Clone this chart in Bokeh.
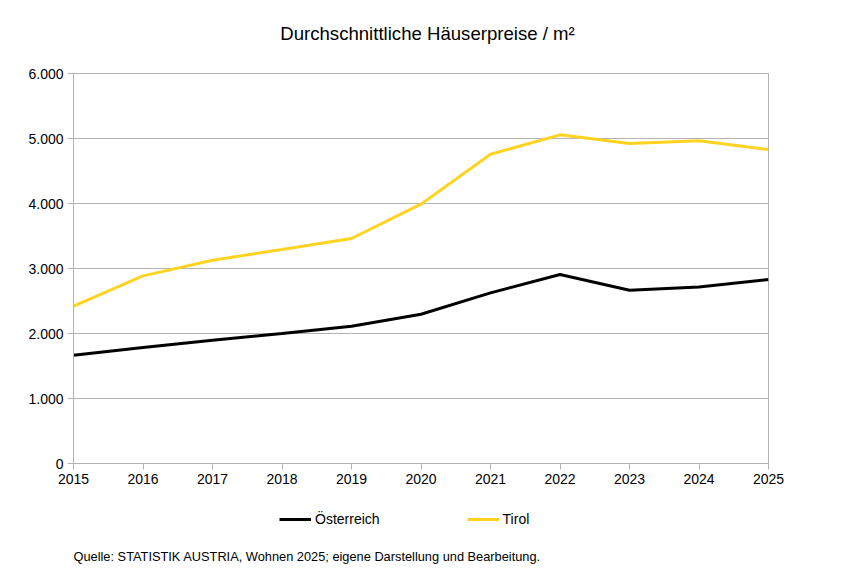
from bokeh.plotting import figure
from bokeh.layouts import column
from bokeh.models import (ColumnDataSource, FixedTicker, Range1d, Label, Legend, LegendItem)
from bokeh.embed import file_html
from bokeh.resources import INLINE

years = [2015, 2016, 2017, 2018, 2019, 2020, 2021, 2022, 2023, 2024, 2025]
oesterreich = [1666, 1785, 1897, 2000, 2112, 2297, 2625, 2908, 2666, 2717, 2831]
tirol = [2420, 2887, 3128, 3292, 3462, 3990, 4758, 5056, 4923, 4964, 4831]
y_ticks = [0, 1000, 2000, 3000, 4000, 5000, 6000]
y_tick_labels = ["0", "1.000", "2.000", "3.000", "4.000", "5.000", "6.000"]
title_text = "Durchschnittliche Häuserpreise / m²"
source_text = "Quelle: STATISTIK AUSTRIA, Wohnen 2025; eigene Darstellung und Bearbeitung."
series_names = ["Österreich", "Tirol"]
series_colors = ["#000000", "#ffd320"]

FONT = "Liberation Sans"
GRID = "#b3b3b3"
W = 855
FL, FR = 73, 768  # frame edges in page pixels (column aligns all frames)


def strip(height):
    f = figure(width=W, height=height, output_backend="svg", toolbar_location=None,
               x_range=Range1d(FL, FR), y_range=Range1d(0, height),
               x_axis_location=None, y_axis_location=None,
               min_border_left=FL, min_border_right=W - FR, min_border_top=0, min_border_bottom=0)
    f.grid.grid_line_color = None
    f.outline_line_color = None
    f.background_fill_color = "white"
    f.border_fill_color = "white"
    return f


# ---- title strip ----
t = strip(60)
t.add_layout(Label(x=427, y=27, text=title_text, text_align="center", text_baseline="middle",
                   text_font=FONT, text_font_size="18.6px", text_color="#000000"))

# ---- main chart ----
p = figure(width=W, height=440, output_backend="svg", toolbar_location=None,
           x_range=Range1d(2015, 2025), y_range=Range1d(0, 6000),
           min_border_left=FL, min_border_right=W - FR, min_border_top=13, min_border_bottom=37)
p.outline_line_color = GRID
p.background_fill_color = "white"
p.border_fill_color = "white"

src = ColumnDataSource(dict(year=years, oe=oesterreich, ti=tirol))
p.line("year", "oe", source=src, line_color=series_colors[0], line_width=3)
p.line("year", "ti", source=src, line_color=series_colors[1], line_width=3)

p.xaxis.ticker = FixedTicker(ticks=years)
p.yaxis.ticker = FixedTicker(ticks=y_ticks)
p.yaxis.major_label_overrides = {tk: lb for tk, lb in zip(y_ticks, y_tick_labels)}
p.xaxis.major_label_overrides = {y: str(y) for y in years}

for ax in (p.xaxis[0], p.yaxis[0]):
    ax.axis_line_color = GRID
    ax.major_tick_line_color = GRID
    ax.minor_tick_line_color = None
    ax.major_tick_in = 0
    ax.major_tick_out = 6
    ax.major_label_text_font = FONT
    ax.major_label_text_font_size = "14px"
    ax.major_label_text_color = "#000000"
    ax.major_label_standoff = 4

p.xgrid.grid_line_color = None
p.ygrid.grid_line_color = GRID

# ---- legend + source strip ----
q = strip(85)
swatch_oe = q.line(x=[-50, -40], y=[-50, -50], line_color=series_colors[0], line_width=3)
swatch_ti = q.line(x=[-50, -40], y=[-50, -50], line_color=series_colors[1], line_width=3)

legend = Legend(items=[LegendItem(label=series_names[0], renderers=[swatch_oe]),
                       LegendItem(label=series_names[1], renderers=[swatch_ti])],
                location=(279 - FL, 56), orientation="horizontal",
                glyph_width=32, glyph_height=20, label_standoff=4, spacing=87,
                padding=0, margin=0, border_line_color=None,
                background_fill_alpha=0,
                label_text_font=FONT, label_text_font_size="14px",
                label_text_color="#000000")
q.add_layout(legend, "center")

q.add_layout(Label(x=73, y=29, text=source_text,
                   text_align="left", text_baseline="middle",
                   text_font=FONT, text_font_size="12.8px", text_color="#000000"))

layout = column(t, p, q, spacing=0)
open("out.html", "w").write(file_html(layout, INLINE))
